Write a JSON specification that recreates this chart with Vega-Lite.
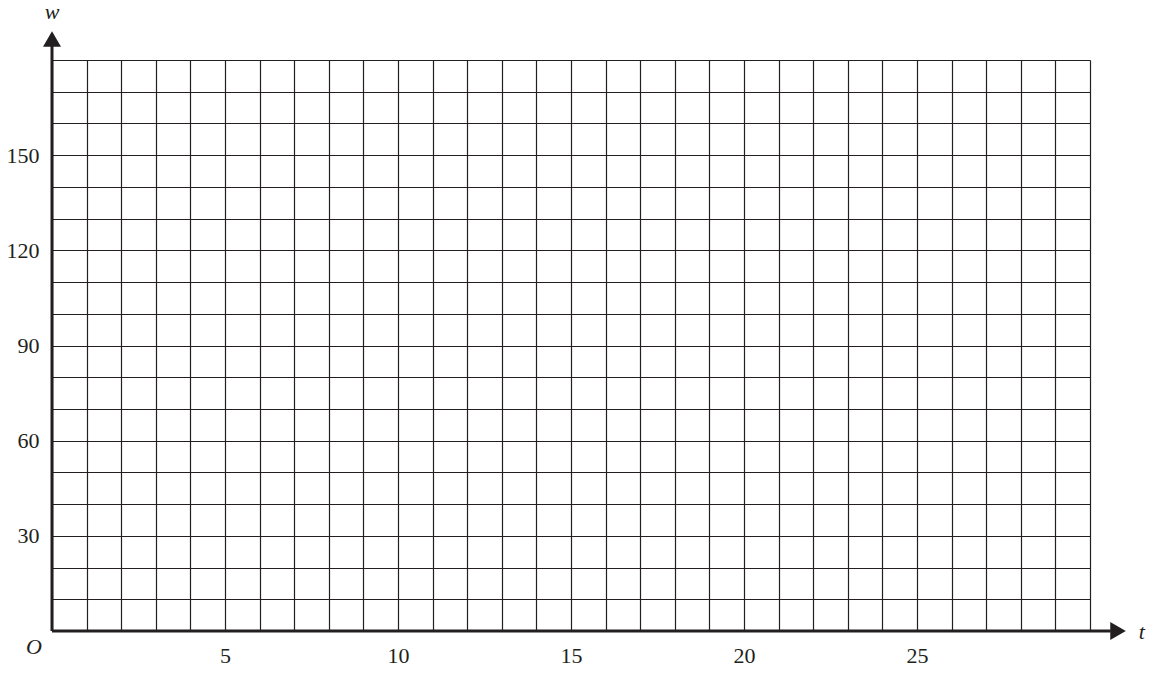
{
  "$schema": "https://vega.github.io/schema/vega-lite/v6.json",
  "width": 1038,
  "height": 571,
  "autosize": {"type": "none"},
  "padding": {"left": 52, "top": 60, "right": 63, "bottom": 42},
  "config": {
    "font": "Liberation Serif",
    "view": {"stroke": null},
    "axis": {
      "grid": true,
      "gridColor": "#231f20",
      "gridWidth": 1.2,
      "gridOpacity": 1,
      "ticks": false,
      "domain": false,
      "labelFontSize": 22,
      "labelColor": "#231f20",
      "labelFont": "Liberation Serif",
      "labelOverlap": false,
      "labelFlush": false,
      "tickCount": 100,
      "format": "d",
      "title": null
    }
  },
  "layer": [
    {
      "data": {
        "values": [
          {"t0": 0, "t1": 30.6, "w0": 0, "w1": 0},
          {"t0": 0, "t1": 0, "w0": 0, "w1": 185}
        ]
      },
      "mark": {"type": "rule", "strokeWidth": 3, "color": "#231f20", "clip": false},
      "encoding": {
        "x": {
          "field": "t0",
          "type": "quantitative",
          "scale": {"domain": [0, 30], "nice": false},
          "axis": {
            "values": [0,1,2,3,4,5,6,7,8,9,10,11,12,13,14,15,16,17,18,19,20,21,22,23,24,25,26,27,28,29,30],
            "tickCount": 100,
            "format": "d",
            "labelExpr": "datum.value % 5 == 0 && datum.value > 0 && datum.value < 30 ? datum.label : ''",
            "labelPadding": 14
          }
        },
        "x2": {"field": "t1"},
        "y": {
          "field": "w0",
          "type": "quantitative",
          "scale": {"domain": [0, 180], "nice": false},
          "axis": {
            "values": [0,10,20,30,40,50,60,70,80,90,100,110,120,130,140,150,160,170,180],
            "tickCount": 100,
            "format": "d",
            "labelExpr": "datum.value % 30 == 0 && datum.value > 0 && datum.value < 180 ? datum.label : ''",
            "labelPadding": 13
          }
        },
        "y2": {"field": "w1"}
      }
    },
    {
      "data": {
        "values": [
          {"t": 0, "w": 186.6, "shape": "triangle-up"},
          {"t": 30.81, "w": 0, "shape": "triangle-right"}
        ]
      },
      "mark": {"type": "point", "filled": true, "size": 324, "color": "#231f20", "opacity": 1, "clip": false},
      "encoding": {
        "x": {"field": "t", "type": "quantitative"},
        "y": {"field": "w", "type": "quantitative"},
        "shape": {"field": "shape", "type": "nominal", "scale": null}
      }
    },
    {
      "data": {
        "values": [
          {"t": 0, "w": 193.0, "label": "w"},
          {"t": 31.5, "w": -2.5, "label": "t"},
          {"t": -0.52, "w": -7.25, "label": "O"}
        ]
      },
      "mark": {"type": "text", "fontStyle": "italic", "fontSize": 22, "align": "center", "baseline": "alphabetic", "color": "#231f20", "clip": false},
      "encoding": {
        "x": {"field": "t", "type": "quantitative"},
        "y": {"field": "w", "type": "quantitative"},
        "text": {"field": "label", "type": "nominal"}
      }
    }
  ]
}
